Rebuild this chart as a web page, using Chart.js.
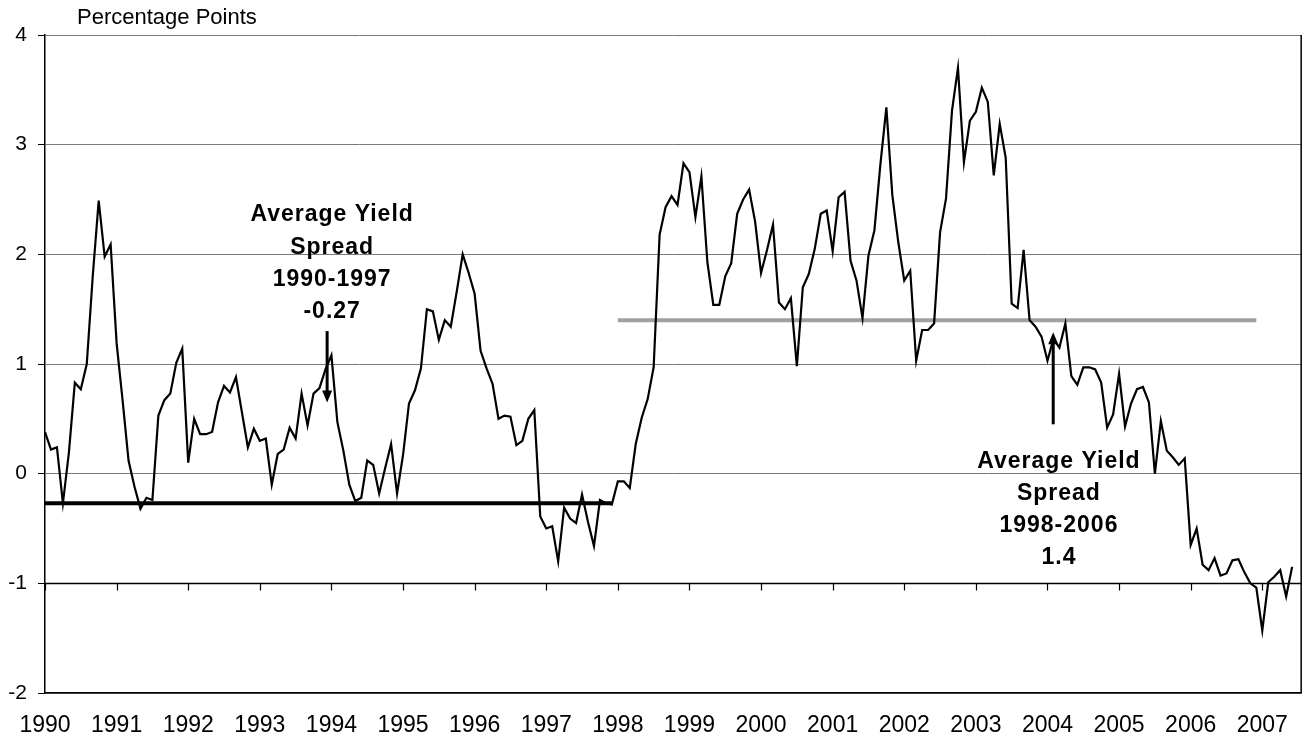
<!DOCTYPE html>
<html>
<head>
<meta charset="utf-8">
<title>Average Yield Spread</title>
<script src="https://cdn.jsdelivr.net/npm/chart.js@4.4.0/dist/chart.umd.min.js"></script>
<style>
  html, body { margin: 0; padding: 0; background: #fff; }
  #wrap { width: 1307px; height: 741px; }
</style>
</head>
<body>
<div id="wrap"><canvas id="spreadChart" width="1307" height="741"></canvas></div>
<script>
const FONT = '"Liberation Sans", Arial, sans-serif';

const START_YEAR = 1990;
const yearTicks = [1990, 1991, 1992, 1993, 1994, 1995, 1996, 1997, 1998,
                   1999, 2000, 2001, 2002, 2003, 2004, 2005, 2006, 2007];
const valueTicks = [-2, -1, 0, 1, 2, 3, 4];

// monthly yield spread, Jan 1990 .. Jun 2007 (percentage points)
const spread = [
     0.38,  0.22,  0.24, -0.27,  0.19,  0.83,  0.77,  1.00,  1.80,  2.49,  1.98,  2.09,  // 1990
     1.19,  0.67,  0.12, -0.12, -0.32, -0.22, -0.24,  0.53,  0.67,  0.73,  1.01,  1.14,  // 1991
     0.10,  0.50,  0.36,  0.36,  0.38,  0.65,  0.80,  0.74,  0.88,  0.56,  0.24,  0.41,  // 1992
     0.30,  0.32, -0.10,  0.18,  0.22,  0.42,  0.32,  0.73,  0.44,  0.73,  0.78,  0.95,  // 1993
     1.08,  0.47,  0.21, -0.10, -0.25, -0.22,  0.12,  0.08, -0.18,  0.05,  0.27, -0.18,  // 1994
     0.17,  0.64,  0.76,  0.96,  1.50,  1.48,  1.22,  1.40,  1.34,  1.66,  2.00,  1.83,  // 1995
     1.64,  1.12,  0.96,  0.82,  0.50,  0.53,  0.52,  0.26,  0.30,  0.50,  0.58, -0.39,  // 1996
    -0.50, -0.48, -0.80, -0.31, -0.41, -0.45, -0.19, -0.44, -0.66, -0.24, -0.27, -0.28,  // 1997
    -0.07, -0.07, -0.13,  0.27,  0.51,  0.68,  0.97,  2.18,  2.43,  2.53,  2.45,  2.83,  // 1998
     2.75,  2.34,  2.71,  1.93,  1.54,  1.54,  1.80,  1.92,  2.37,  2.50,  2.59,  2.30,  // 1999
     1.83,  2.04,  2.27,  1.56,  1.50,  1.60,  0.98,  1.70,  1.82,  2.05,  2.37,  2.40,  // 2000
     2.03,  2.52,  2.57,  1.94,  1.76,  1.42,  1.99,  2.22,  2.82,  3.34,  2.54,  2.11,  // 2001
     1.76,  1.85,  1.03,  1.31,  1.31,  1.37,  2.20,  2.51,  3.31,  3.70,  2.84,  3.22,  // 2002
     3.30,  3.52,  3.39,  2.72,  3.19,  2.88,  1.55,  1.51,  2.04,  1.40,  1.34,  1.25,  // 2003
     1.03,  1.23,  1.15,  1.37,  0.89,  0.81,  0.97,  0.97,  0.95,  0.83,  0.42,  0.54,  // 2004
     0.91,  0.43,  0.64,  0.77,  0.79,  0.65,  0.00,  0.48,  0.21,  0.15,  0.08,  0.14,  // 2005
    -0.65, -0.50, -0.83, -0.88, -0.77, -0.93, -0.91, -0.79, -0.78, -0.90, -1.00, -1.04,  // 2006
    -1.43, -0.99, -0.94, -0.88, -1.12, -0.85                                             // 2007
];

// period averages: value and first / last month index
const avgEarly = -0.27;
const avgEarlyMonths = [0, 95];     // 1990-1997
const avgLate = 1.4;
const avgLateMonths = [96, 203];    // 1998-2006

const noteEarly = ['Average Yield', 'Spread', '1990-1997', '-0.27'];
const noteLate = ['Average Yield', 'Spread', '1998-2006', '1.4'];

function monthX(i) {
    return START_YEAR + i / 12;
}

const spreadPoints = spread.map((v, i) => ({ x: monthX(i), y: v }));

// where the notes and arrows sit, in axis units
const notes = [
    { lines: noteEarly, x: 1994.01, y: 2.30, arrowX: 1993.94, from: 1.30, to: 0.65 },
    { lines: noteLate,  x: 2004.16, y: 0.055, arrowX: 2004.08, from: 0.45, to: 1.29 }
];

function drawArrow(ctx, x, yFrom, yTo) {
    const dir = Math.sign(yTo - yFrom);
    ctx.beginPath();
    ctx.moveTo(x, yFrom);
    ctx.lineTo(x, yTo - dir * 10);
    ctx.stroke();
    ctx.beginPath();
    ctx.moveTo(x, yTo);
    ctx.lineTo(x - 5, yTo - dir * 12);
    ctx.lineTo(x + 5, yTo - dir * 12);
    ctx.closePath();
    ctx.fill();
}

const extras = {
    id: 'extras',
    beforeDatasetsDraw(chart) {
        const { ctx, chartArea: a, scales: { x, y } } = chart;
        ctx.save();
        ctx.strokeStyle = '#000';

        // horizontal axis crosses at -1, with its tick marks
        const yAxis = Math.round(y.getPixelForValue(-1)) + 0.5;
        ctx.lineWidth = 1.5;
        ctx.beginPath();
        ctx.moveTo(a.left, yAxis);
        ctx.lineTo(a.right, yAxis);
        ctx.stroke();

        ctx.lineWidth = 1.2;
        ctx.beginPath();
        yearTicks.forEach(t => {
            const px = Math.round(x.getPixelForValue(t)) + 0.5;
            ctx.moveTo(px, yAxis);
            ctx.lineTo(px, yAxis + 7);
        });
        ctx.stroke();

        // right border of the plot
        ctx.lineWidth = 1.5;
        ctx.beginPath();
        ctx.moveTo(a.right - 0.5, a.top);
        ctx.lineTo(a.right - 0.5, a.bottom);
        ctx.stroke();
        ctx.restore();
    },
    afterDatasetsDraw(chart) {
        const { ctx, scales: { x, y } } = chart;
        ctx.save();
        ctx.fillStyle = '#000';
        ctx.strokeStyle = '#000';
        ctx.lineWidth = 3;

        notes.forEach(n => {
            drawArrow(ctx, x.getPixelForValue(n.arrowX),
                y.getPixelForValue(n.from), y.getPixelForValue(n.to));

            ctx.font = 'bold 23px ' + FONT;
            ctx.textAlign = 'center';
            ctx.textBaseline = 'alphabetic';
            if ('letterSpacing' in ctx) ctx.letterSpacing = '1px';
            const cx = x.getPixelForValue(n.x);
            const top = y.getPixelForValue(n.y);
            n.lines.forEach((txt, k) => {
                ctx.fillText(txt, cx, top + k * 32.2);
            });
        });

        // axis title
        if ('letterSpacing' in ctx) ctx.letterSpacing = '0px';
        ctx.font = '22px ' + FONT;
        ctx.textAlign = 'left';
        ctx.fillText('Percentage Points', 77, 23.5);
        ctx.restore();
    }
};

new Chart(document.getElementById('spreadChart'), {
    type: 'line',
    data: {
        datasets: [
            {
                label: 'Yield spread',
                data: spreadPoints,
                borderColor: '#000',
                borderWidth: 2.2,
                pointRadius: 0,
                tension: 0
            },
            {
                label: 'Average 1990-1997',
                data: avgEarlyMonths.map(i => ({ x: monthX(i), y: avgEarly })),
                borderColor: '#000',
                borderWidth: 4,
                pointRadius: 0
            },
            {
                label: 'Average 1998-2006',
                data: avgLateMonths.map(i => ({ x: monthX(i), y: avgLate })),
                borderColor: '#a0a0a0',
                borderWidth: 4,
                pointRadius: 0
            }
        ]
    },
    options: {
        responsive: false,
        animation: false,
        devicePixelRatio: 1,
        layout: { padding: { top: 35, right: 4, left: 0, bottom: 0 } },
        plugins: {
            legend: { display: false },
            tooltip: { enabled: false }
        },
        scales: {
            x: {
                type: 'linear',
                min: 1990,
                max: 2007.55,
                afterBuildTicks: s => { s.ticks = yearTicks.map(v => ({ value: v })); },
                afterFit: s => { s.height = 48; },
                grid: { display: false, drawTicks: false },
                border: { display: true, color: '#000', width: 1.5 },
                ticks: {
                    color: '#000',
                    font: { family: FONT, size: 23 },
                    padding: 19,
                    maxRotation: 0,
                    autoSkip: false,
                    callback: v => String(v)
                }
            },
            y: {
                min: -2,
                max: 4,
                afterBuildTicks: s => { s.ticks = valueTicks.map(v => ({ value: v })); },
                afterFit: s => { s.width = 45; },
                grid: {
                    color: c => (c.tick && c.tick.value === -1) ? '#000' : '#7a7a7a',
                    lineWidth: 1,
                    tickLength: 7,
                    tickColor: '#000'
                },
                border: { color: '#000', width: 1.5 },
                ticks: {
                    color: '#000',
                    font: { family: FONT, size: 21 },
                    padding: 11,
                    callback: v => String(v)
                }
            }
        }
    },
    plugins: [extras]
});
</script>
</body>
</html>
